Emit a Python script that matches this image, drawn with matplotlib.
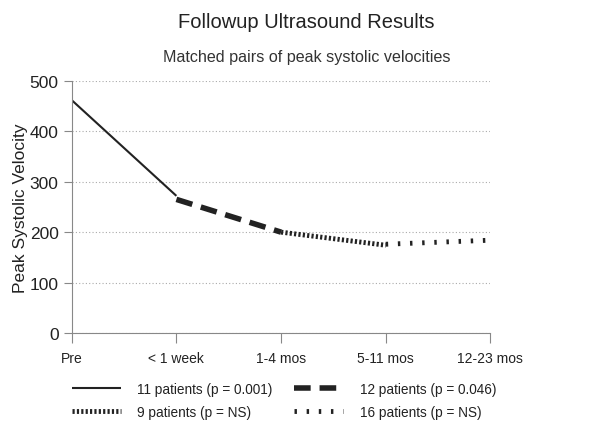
import matplotlib.pyplot as plt

plt.rcParams['font.family'] = ['Liberation Sans', 'DejaVu Sans']

periods = ["Pre", "< 1 week", "1-4 mos", "5-11 mos", "12-23 mos"]
# each segment: matched pairs between two consecutive periods
seg1 = [462, 272]   # 11 patients
seg2 = [265, 200]   # 12 patients
seg3 = [200, 174]   # 9 patients
seg4 = [176, 184]   # 16 patients
labels = ["11 patients (p = 0.001)", "12 patients (p = 0.046)",
          "9 patients (p = NS)", "16 patients (p = NS)"]

fig = plt.figure(figsize=(6.13, 4.27), dpi=100)
ax = fig.add_axes([0.117, 0.218, 0.683, 0.59])

c = "#222222"
l1, = ax.plot([0, 1], seg1, color=c, lw=1.5, solid_capstyle='butt')
l2, = ax.plot([1, 2], seg2, color=c, lw=4, dashes=(3, 1.6), dash_capstyle='butt')
l3, = ax.plot([2, 3], seg3, color=c, lw=3.5, dashes=(0.45, 0.45), dash_capstyle='butt')
l4, = ax.plot([3, 4], seg4, color=c, lw=3.5, dashes=(0.5, 2.0), dash_capstyle='butt')

ax.set_xlim(0, 4)
ax.set_ylim(0, 500)
ax.set_xticks(range(len(periods)))
ax.set_xticklabels(periods, fontsize=10, color="#222222")
ax.set_yticks([0, 100, 200, 300, 400, 500])
ax.tick_params(axis='y', labelsize=12.5, colors="#888888", labelcolor="#222222", length=6, width=0.8)
ax.tick_params(axis='x', length=7, width=0.8, colors="#888888", labelcolor="#222222", pad=6)
ax.yaxis.grid(True, linestyle=(0, (1, 2)), color="#aaaaaa", lw=0.8)
ax.set_axisbelow(True)
for s in ["top", "right"]:
    ax.spines[s].set_visible(False)
ax.spines["left"].set_color("#888888")
ax.spines["bottom"].set_color("#888888")
ax.set_ylabel("Peak Systolic Velocity", fontsize=12.5, color="#222222", labelpad=1)

fig.text(0.5, 0.948, "Followup Ultrasound Results", ha='center', va='center', fontsize=14.5, color="#222222")
fig.text(0.5, 0.866, "Matched pairs of peak systolic velocities", ha='center', va='center', fontsize=11.6, color="#333333")

fig.legend([l1, l3, l2, l4], [labels[0], labels[2], labels[1], labels[3]],
           ncol=2, frameon=False, loc='center left', bbox_to_anchor=(0.097, 0.06),
           fontsize=9.8, handlelength=3.6, handletextpad=1.2, columnspacing=1.6,
           labelspacing=0.7, labelcolor="#222222")

fig.savefig("out.png", dpi=100)
